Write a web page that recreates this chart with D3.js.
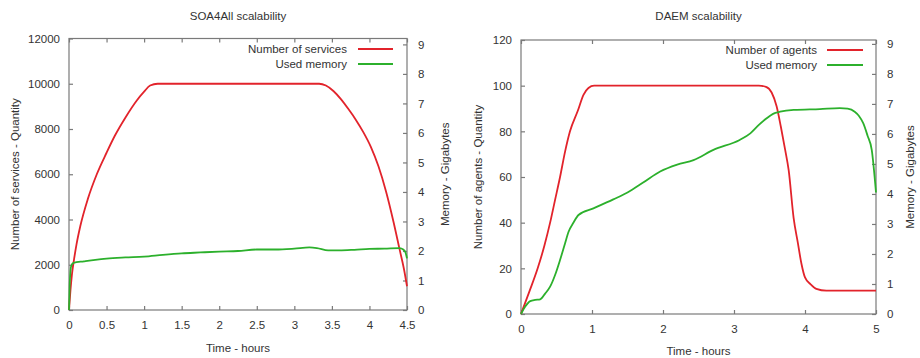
<!DOCTYPE html>
<html><head><meta charset="utf-8">
<script src="https://cdn.jsdelivr.net/npm/d3@7"></script>
<style>
body{margin:0;background:#fff;}
svg text{font-family:"Liberation Sans",Arial,sans-serif;fill:#333;}
</style></head>
<body><svg id="c" width="920" height="358"></svg>
<script>
// ---- data ----
const titles = ["SOA4All scalability", "DAEM scalability"];
const yLabels = ["Number of services - Quantity", "Number of agents - Quantity"];
const y2Label = "Memory - Gigabytes";
const xLabel = "Time - hours";
const countNames = ["Number of services", "Number of agents"];
const memName = "Used memory";

const soaXTicks = [0,0.5,1,1.5,2,2.5,3,3.5,4,4.5];
const soaYTicks = [0,2000,4000,6000,8000,10000,12000];
const daemXTicks = [0,1,2,3,4,5];
const daemYTicks = [0,20,40,60,80,100,120];
const y2Ticks = [0,1,2,3,4,5,6,7,8,9];

const soaServices = [
  [0,0],[0.02,900],[0.04,1600],[0.07,2300],[0.1,2900],[0.15,3700],[0.25,4900],[0.37,6000],[0.5,6950],
  [0.61,7700],[0.75,8500],[0.9,9250],[1.0,9650],[1.08,9920],[1.18,10000],[3.33,10000],[3.42,9920],
  [3.52,9680],[3.62,9320],[3.72,8880],[3.82,8400],[3.92,7850],[4.02,7200],[4.12,6350],[4.22,5250],
  [4.32,3900],[4.4,2700],[4.46,1800],[4.5,1050]
];
const soaMemory = [
  [0,0],[0.01,0.9],[0.03,1.5],[0.06,1.6],[0.2,1.65],[0.35,1.7],[0.5,1.74],[0.75,1.78],[1.0,1.81],
  [1.25,1.87],[1.5,1.92],[1.75,1.95],[2.0,1.98],[2.25,2.0],[2.5,2.05],[2.75,2.05],[3.0,2.08],
  [3.2,2.12],[3.3,2.1],[3.45,2.02],[3.6,2.02],[3.8,2.04],[4.0,2.07],[4.2,2.08],[4.4,2.1],
  [4.45,2.05],[4.48,1.95],[4.5,1.75]
];
const daemAgents = [
  [0,0],[0.12,10],[0.235,20],[0.33,30],[0.41,40],[0.48,50],[0.55,60],[0.62,71],[0.69,80],[0.8,89],
  [0.88,96],[0.95,99],[1.03,100],[3.35,100],[3.45,99.5],[3.53,97],[3.6,91],[3.66,82],[3.72,72],[3.77,63],
  [3.84,42],[3.9,31],[3.95,22],[4.0,16],[4.08,13],[4.16,11],[4.3,10.2],[5.0,10.2]
];
const daemMemory = [
  [0,0],[0.06,0.25],[0.13,0.43],[0.2,0.47],[0.27,0.49],[0.34,0.68],[0.41,0.91],[0.48,1.3],
  [0.55,1.8],[0.62,2.35],[0.67,2.74],[0.74,3.05],[0.81,3.3],[1.02,3.52],[1.3,3.82],[1.5,4.05],
  [1.72,4.38],[1.96,4.75],[2.2,4.98],[2.43,5.13],[2.71,5.47],[3.08,5.8],[3.23,6.02],[3.35,6.3],
  [3.46,6.52],[3.55,6.67],[3.65,6.74],[3.84,6.8],[4.21,6.83],[4.49,6.86],[4.6,6.84],[4.7,6.74],
  [4.76,6.6],[4.82,6.36],[4.88,5.95],[4.94,5.47],[5.0,4.05]
];

// ---- drawing ----
const svg = d3.select("#c");
const RED = "#e2232b", GREEN = "#2cb02c", AX = "#7a7a7a";

function chart(o){
  const g = svg.append("g");
  const x = d3.scaleLinear().domain(o.xDom).range([o.x0,o.x1]);
  const y = d3.scaleLinear().domain(o.yDom).range([o.yB,o.yT]);
  const y2 = d3.scaleLinear().domain(o.y2Dom).range([o.yB,o.yT]);
  const tl = 4;
  g.append("rect").attr("x",o.x0).attr("y",o.yT).attr("width",o.x1-o.x0).attr("height",o.yB-o.yT)
    .attr("fill","none").attr("stroke",AX).attr("stroke-width",1.2);
  const styleAxis = s => { s.select(".domain").remove(); s.selectAll(".tick line").attr("stroke",AX).attr("stroke-width",1.2);
    s.selectAll(".tick text").style("font-size","11.5px").attr("fill","#333"); };
  g.append("g").attr("transform",`translate(0,${o.yB})`)
    .call(d3.axisBottom(x).tickValues(o.xTicks).tickSize(-tl).tickPadding(11).tickFormat(d3.format("~g"))).call(styleAxis);
  g.append("g").attr("transform",`translate(0,${o.yT})`)
    .call(d3.axisTop(x).tickValues(o.xTicks).tickSize(-tl).tickFormat("")).call(styleAxis);
  g.append("g").attr("transform",`translate(${o.x0},0)`)
    .call(d3.axisLeft(y).tickValues(o.yTicks).tickSize(-tl).tickPadding(o.yPad).tickFormat(d3.format("d"))).call(styleAxis);
  g.append("g").attr("transform",`translate(${o.x1},0)`)
    .call(d3.axisRight(y2).tickValues(y2Ticks).tickSize(-tl).tickPadding(11).tickFormat(d3.format("d"))).call(styleAxis);
  const line = (sc) => d3.line().x(d=>x(d[0])).y(d=>sc(d[1])).curve(d3.curveMonotoneX);
  g.append("path").datum(o.count).attr("d",line(y)).attr("fill","none").attr("stroke",RED).attr("stroke-width",1.8);
  g.append("path").datum(o.mem).attr("d",line(y2)).attr("fill","none").attr("stroke",GREEN).attr("stroke-width",1.8);
  g.append("text").attr("x",(o.x0+o.x1)/2).attr("y",20).attr("text-anchor","middle").style("font-size","11.5px").text(o.title);
  g.append("text").attr("x",(o.x0+o.x1)/2).attr("y",o.xLabY).attr("text-anchor","middle").style("font-size","11.5px").text(xLabel);
  g.append("text").attr("transform",`translate(${o.yLabX},${(o.yT+o.yB)/2}) rotate(-90)`).attr("text-anchor","middle")
    .style("font-size","11.5px").text(o.yLabel);
  g.append("text").attr("transform",`translate(${o.y2LabX},${(o.yT+o.yB)/2}) rotate(-90)`).attr("text-anchor","middle")
    .style("font-size","11.5px").text(y2Label);
  const leg = [[o.countName,RED],[memName,GREEN]];
  leg.forEach((d,i)=>{
    const ly = o.legY + i*15;
    g.append("text").attr("x",o.legTextX).attr("y",ly+4).attr("text-anchor","end").style("font-size","11.5px").text(d[0]);
    g.append("line").attr("x1",o.legL0).attr("x2",o.legL1).attr("y1",ly).attr("y2",ly).attr("stroke",d[1]).attr("stroke-width",1.8);
  });
}

chart({title:titles[0], yLabel:yLabels[0], countName:countNames[0], count:soaServices, mem:soaMemory,
  xDom:[0,4.5], yDom:[0,12000], y2Dom:[0,9.2], xTicks:soaXTicks, yTicks:soaYTicks,
  x0:69, x1:407, yT:38.5, yB:310, yPad:9, xLabY:352, yLabX:19, y2LabX:449,
  legY:49, legTextX:347, legL0:358, legL1:393});
chart({title:titles[1], yLabel:yLabels[1], countName:countNames[1], count:daemAgents, mem:daemMemory,
  xDom:[0,5], yDom:[0,120], y2Dom:[0,9.13], xTicks:daemXTicks, yTicks:daemYTicks,
  x0:521, x1:876, yT:40, yB:314, yPad:9, xLabY:355, yLabX:482, y2LabX:914,
  legY:50, legTextX:817, legL0:827, legL1:863});
</script></body></html>
